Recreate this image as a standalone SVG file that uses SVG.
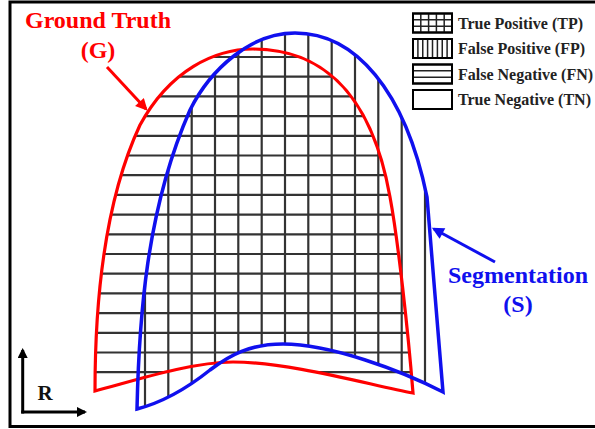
<svg xmlns="http://www.w3.org/2000/svg" width="595" height="429" viewBox="0 0 595 429">
<style>
.grid{stroke:#333;stroke-width:2.2;fill:none}
.lg{stroke:#222;stroke-width:1.5;fill:none}
.box{stroke:#000;stroke-width:2;fill:#fff}
.t{font-family:"Liberation Serif","Times New Roman",serif;font-weight:bold}
.leg{font-size:16px;fill:#222}
.red{fill:#ff0000}
.blue{fill:#1010ee}
</style>
<defs>
<path id="gShape" d="M95 391 C95 300,105 200,140 125 C170 70,215 49,253 49 C315 49,370 85,390 197 C398 240,408 330,413 393 C370 385,290 362,233 362 C190 362,130 382,95 391 Z"/>
<path id="sShape" d="M137 409 C139 320,146 210,190 110 C210 70,250 33,295 33 C355 33,405 90,427 197 C432 260,438 330,443 392 C400 370,330 344,283 344 C250 344,230 355,210 370 C185 390,160 403,137 409 Z"/>
<clipPath id="clipG"><use href="#gShape"/></clipPath>
<clipPath id="clipS"><use href="#sShape"/></clipPath>
<marker id="ahR" viewBox="0 0 10 10" refX="8" refY="5" markerWidth="4.5" markerHeight="4" orient="auto" markerUnits="strokeWidth"><path d="M0 0 L10 5 L0 10 Z" fill="#ff0000"/></marker>
<marker id="ahB" viewBox="0 0 10 10" refX="8" refY="5" markerWidth="4.5" markerHeight="4" orient="auto" markerUnits="strokeWidth"><path d="M0 0 L10 5 L0 10 Z" fill="#1010ee"/></marker>
<marker id="ahK" viewBox="0 0 10 10" refX="8" refY="5" markerWidth="3.6" markerHeight="3.4" orient="auto" markerUnits="strokeWidth"><path d="M0 0 L10 5 L0 10 Z" fill="#000"/></marker>
</defs>
<rect width="595" height="429" fill="#fff"/>
<rect x="10" y="2" width="600" height="424.5" fill="none" stroke="#000" stroke-width="3"/>

<g id="grid-horizontal" clip-path="url(#clipG)">
<path class="grid" d="M80 57H460M80 76.7H460M80 96.4H460M80 116.1H460M80 135.8H460M80 155.5H460M80 175.2H460M80 194.9H460M80 214.6H460M80 234.3H460M80 254H460M80 273.7H460M80 293.4H460M80 313.1H460M80 332.8H460M80 352.5H460M80 372.2H460"/>
</g>
<g id="grid-vertical" clip-path="url(#clipS)">
<path class="grid" d="M145 20V420M168.3 20V420M191.7 20V420M215 20V420M238.3 20V420M261.7 20V420M285 20V420M308.3 20V420M331.7 20V420M355 20V420M378.3 20V420M401.7 20V420M425 20V420"/>
</g>

<g id="ground-truth">
<use href="#gShape" fill="none" stroke="#ff0000" stroke-width="3.2"/>
<text class="t red" x="98" y="28" font-size="24" text-anchor="middle">Ground Truth</text>
<text class="t red" x="98" y="58" font-size="24" text-anchor="middle">(G)</text>
</g>

<g id="segmentation">
<use href="#sShape" fill="none" stroke="#1010ee" stroke-width="3.5"/>
<text class="t blue" x="518" y="283" font-size="24" text-anchor="middle">Segmentation</text>
<text class="t blue" x="518" y="312" font-size="24" text-anchor="middle">(S)</text>
</g>

<g id="connectors">
<line x1="107" y1="67" x2="146" y2="109" stroke="#ff0000" stroke-width="3" marker-end="url(#ahR)"/>
<line x1="495" y1="262" x2="434" y2="229" stroke="#1010ee" stroke-width="3" marker-end="url(#ahB)"/>
</g>

<g id="legend">
<rect class="box" x="413" y="13.5" width="39" height="19"/>
<path class="lg" d="M420.8 13.5V32.5M428.6 13.5V32.5M436.4 13.5V32.5M444.2 13.5V32.5M413 19.8H452M413 26.2H452"/>
<rect class="box" x="413" y="13.5" width="39" height="19" style="fill:none"/>
<text class="t leg" x="458" y="28.5">True Positive (TP)</text>

<rect class="box" x="413" y="39" width="39" height="19"/>
<path class="lg" d="M417.9 39V58M422.75 39V58M427.6 39V58M432.5 39V58M437.4 39V58M442.25 39V58M447.1 39V58"/>
<rect class="box" x="413" y="39" width="39" height="19" style="fill:none"/>
<text class="t leg" x="458" y="54">False Positive (FP)</text>

<rect class="box" x="413" y="64.5" width="39" height="19"/>
<path class="lg" d="M413 70.8H452M413 77.2H452"/>
<rect class="box" x="413" y="64.5" width="39" height="19" style="fill:none"/>
<text class="t leg" x="458" y="79.5">False Negative (FN)</text>

<rect class="box" x="413" y="90" width="39" height="19"/>
<text class="t leg" x="458" y="105">True Negative (TN)</text>
</g>

<g id="axis-r">
<line x1="22.7" y1="413.5" x2="22.7" y2="350" stroke="#000" stroke-width="3" marker-end="url(#ahK)"/>
<line x1="21.2" y1="412" x2="85" y2="412" stroke="#000" stroke-width="3" marker-end="url(#ahK)"/>
<text class="t" x="45" y="400" font-size="21" text-anchor="middle" fill="#111">R</text>
</g>
</svg>
